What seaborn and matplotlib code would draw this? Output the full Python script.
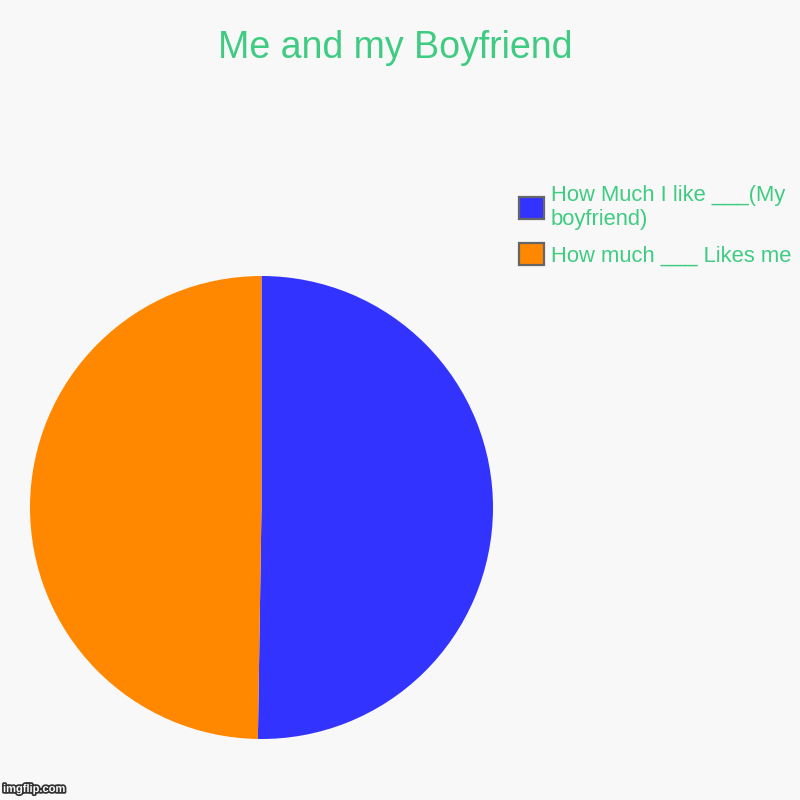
import matplotlib
matplotlib.use("Agg")
import matplotlib.pyplot as plt
import matplotlib.patheffects as pe
from matplotlib.patches import Patch
import seaborn as sns

# data
labels = ["How Much I like ___(My\nboyfriend)", "How much ___ Likes me"]
values = [101, 100]
colors = ["#3333ff", "#ff8800"]
title = "Me and my Boyfriend"

sns.set_style("white")
plt.rcParams['font.family'] = ['Liberation Sans', 'DejaVu Sans']

bg = "#f8f8f8"
green = "#3fcc82"

fig = plt.figure(figsize=(8, 8), dpi=100, facecolor=bg)
ax = fig.add_axes([30 / 800, 61 / 800, 463 / 800, 463 / 800])
ax.set_facecolor(bg)
ax.pie(values, colors=colors, startangle=90, counterclock=False,
       radius=1, wedgeprops={'linewidth': 0})
ax.set_xlim(-1, 1)
ax.set_ylim(-1, 1)
ax.set_aspect('equal')
ax.axis('off')

fig.text(395 / 800, 1 - 48 / 800, title, ha='center', va='center',
         fontsize=27, color=green)

handles = [Patch(facecolor=c, edgecolor="#666666", linewidth=1.6) for c in colors]
leg = fig.legend(handles, labels, loc='upper left',
                 bbox_to_anchor=(510 / 800, 1 - 176 / 800),
                 frameon=False, fontsize=15.8, handlelength=1.15,
                 handleheight=1.15, handletextpad=0.3, labelspacing=0.6,
                 labelcolor=green, borderaxespad=0)

fig.text(3 / 800, 6 / 800, "imgflip.com", fontsize=8, fontweight='bold',
         color='white', ha='left', va='bottom',
         path_effects=[pe.withStroke(linewidth=2.5, foreground='#333333')])

fig.savefig("out.png", dpi=100, facecolor=bg)
